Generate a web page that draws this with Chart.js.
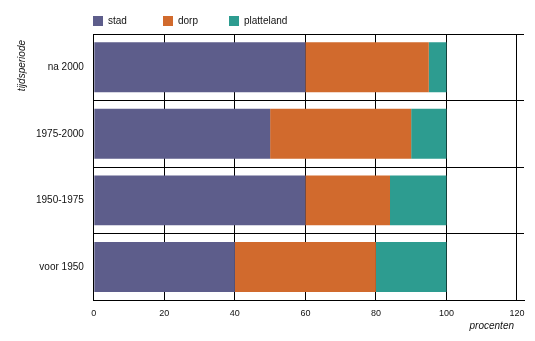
<!DOCTYPE html>
<html>
<head>
<meta charset="utf-8">
<script src="https://cdn.jsdelivr.net/npm/chart.js@4/dist/chart.umd.min.js"></script>
<style>
  html, body { margin: 0; padding: 0; background: #fff; }
  canvas { display: block; }
</style>
</head>
<body>
<canvas id="woonChart" width="535" height="341"></canvas>
<script>
// tijdsperioden, van boven naar beneden
const perioden = ['na 2000', '1975-2000', '1950-1975', 'voor 1950'];
// aandeel per woonomgeving (procenten)
const stad = [60, 50, 60, 40];
const dorp = [35, 40, 24, 40];
const platteland = [5, 10, 16, 20];
// waarden op de procentenas
const procentTicks = [0, 20, 40, 60, 80, 100, 120];

const FONT = '"Liberation Sans", Arial, sans-serif';
const TEKST = '#111';

/**
 * legenda en astitels, uitgelijnd op het grafiekgebied
 */
const legendaPlugin = {
    id: 'legenda',
    afterDraw(chart) {
        const ctx = chart.ctx;
        const area = chart.chartArea;
        const offsets = [0, 70, 136];

        ctx.save();
        ctx.font = '10px ' + FONT;
        ctx.textBaseline = 'middle';
        ctx.textAlign = 'left';
        chart.data.datasets.forEach((ds, i) => {
            const bx = Math.round(area.left) - 1 + offsets[i];
            ctx.fillStyle = ds.backgroundColor;
            ctx.fillRect(bx, 16, 10, 10);
            ctx.fillStyle = TEKST;
            ctx.fillText(ds.label, bx + 15, 21.5);
        });

        // astitels
        ctx.font = 'italic 10px ' + FONT;
        ctx.textAlign = 'right';
        ctx.fillText('procenten', area.right - 10, 326);

        ctx.translate(22, area.top + 6);
        ctx.rotate(-Math.PI / 2);
        ctx.fillText('tijdsperiode', 0, 0);
        ctx.restore();
    }
};

Chart.defaults.font.family = FONT;
Chart.defaults.color = TEKST;

new Chart(document.getElementById('woonChart'), {
    type: 'bar',
    data: {
        labels: perioden,
        datasets: [
            { label: 'stad', data: stad, backgroundColor: '#5d5d8b' },
            { label: 'dorp', data: dorp, backgroundColor: '#d16a2d' },
            { label: 'platteland', data: platteland, backgroundColor: '#2d9c90' }
        ]
    },
    options: {
        indexAxis: 'y',
        responsive: false,
        animation: false,
        layout: { padding: { top: 34, left: 26, right: 11, bottom: 14 } },
        datasets: {
            bar: { categoryPercentage: 1, barPercentage: 0.75, borderWidth: 0 }
        },
        plugins: {
            legend: { display: false },
            tooltip: { enabled: false }
        },
        scales: {
            x: {
                stacked: true,
                min: 0,
                max: 122,
                afterBuildTicks: (axis) => {
                    axis.ticks = procentTicks.map(v => ({ value: v }));
                },
                grid: { color: '#000', lineWidth: 1, drawTicks: false },
                border: { color: '#000', width: 1 },
                ticks: { padding: 8, font: { size: 9 }, color: TEKST }
            },
            y: {
                stacked: true,
                grid: { color: '#000', lineWidth: 1, drawTicks: false, offset: true },
                border: { color: '#000', width: 1 },
                ticks: { padding: 10, font: { size: 10 }, color: TEKST }
            }
        }
    },
    plugins: [legendaPlugin]
});
</script>
</body>
</html>
